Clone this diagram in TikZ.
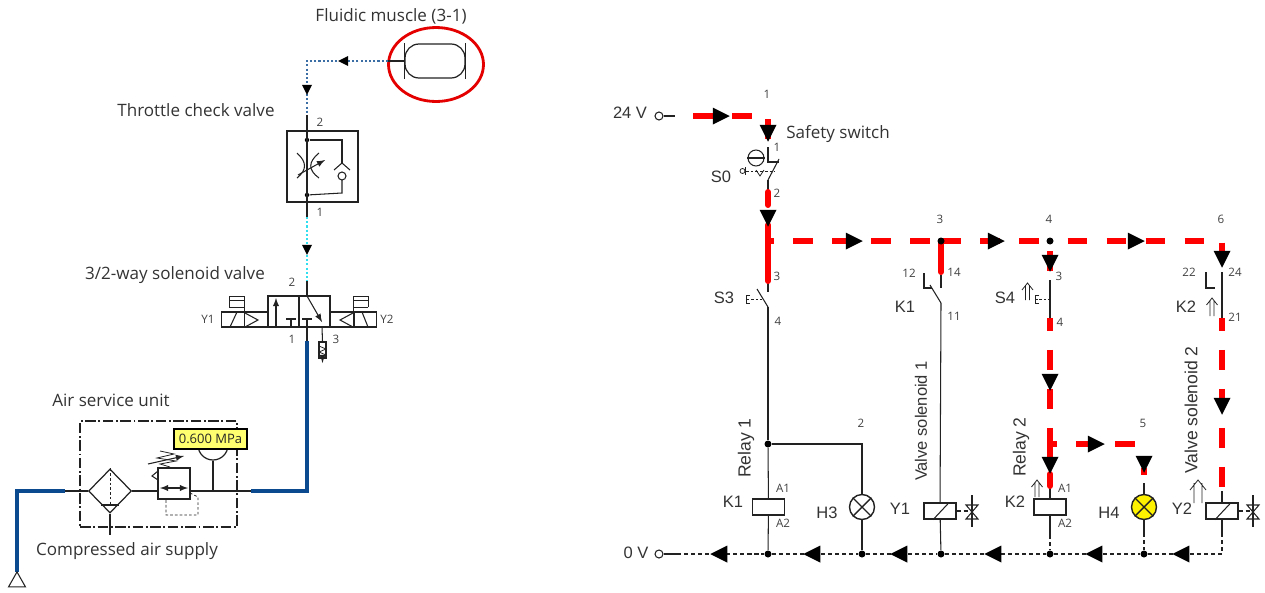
\documentclass[tikz,border=0pt]{standalone}
\usepackage{fontspec}
\setmainfont{Open Sans}
\newfontfamily\armfont{Liberation Sans}
\usetikzlibrary{shapes.geometric,calc}
\definecolor{wirecol}{HTML}{222222}
\definecolor{pipecol}{HTML}{0B4A8F}
\definecolor{dotblue}{HTML}{3A6EA5}
\definecolor{dotcyan}{HTML}{30E0F0}
\definecolor{tagcol}{HTML}{FFFF70}
\tikzset{
    x=0.02cm,
    y=-0.02cm,
    >=latex,
    wire/.style = {draw=wirecol, line width=0.6pt},
    fine/.style = {draw=wirecol, line width=0.45pt},
    dotwire/.style = {draw=wirecol, line width=0.45pt, dash pattern=on 1.5pt off 1.2pt},
    dashwire/.style = {draw=wirecol, line width=0.6pt, dash pattern=on 2.4pt off 1.6pt},
    pipe/.style = {draw=pipecol, line width=1.8pt},
    dotpipe/.style = {line width=0.7pt, dash pattern=on 1.2pt off 1.2pt},
    redflow/.style = {draw=red, line width=3.4pt, dash pattern=on 11.2pt off 11.0pt},
    redsolid/.style = {draw=red, line width=3.4pt, line cap=round},
    flowright/.style = {isosceles triangle, isosceles triangle stretches, fill=black, inner sep=0pt,
        minimum width=0.34cm, minimum height=0.34cm, shape border rotate=0},
    flowdown/.style = {flowright, shape border rotate=270},
    flowleft/.style = {flowright, shape border rotate=180},
    smalldown/.style = {flowdown, minimum width=0.2cm, minimum height=0.2cm},
    smallleft/.style = {flowleft, minimum width=0.2cm, minimum height=0.2cm},
    junction/.style = {circle, fill=black, minimum size=0.14cm, inner sep=0pt},
    smalldot/.style = {circle, fill=black, minimum size=0.09cm, inner sep=0pt},
    terminal/.style = {circle, draw=wirecol, line width=0.6pt, minimum size=0.16cm, inner sep=0pt},
    coil/.style = {draw=wirecol, line width=0.8pt, shape=rectangle, minimum width=0.64cm, minimum height=0.32cm, inner sep=0pt},
    lamp/.style = {draw=wirecol, line width=0.8pt, shape=circle, minimum size=0.5cm, inner sep=0pt},
    cell/.style = {draw=wirecol, line width=0.7pt, shape=rectangle, inner sep=0pt},
    caption/.style = {text=black!80, font=\fontsize{9.7}{11}\selectfont, inner sep=0pt},
    tag/.style = {text=black!80, font=\armfont\fontsize{9.4}{11}\selectfont, inner sep=0pt},
    num/.style = {text=black!75, font=\fontsize{6.6}{8}\selectfont, inner sep=0pt},
}
\begin{document}
\begin{tikzpicture}
    \useasboundingbox (0,0) rectangle (1265,592);

    % labels, pneumatic side
    \node[caption] (lblmuscle) at (391,16) {Fluidic muscle (3-1)};
    \node[caption] (lblthrottle) at (196,110) {Throttle check valve};
    \node[caption] (lblvalve) at (175,275) {3/2-way solenoid valve};
    \node[caption] (lblunit) at (111,400) {Air service unit};
    \node[caption] (lblsupply) at (127,551) {Compressed air supply};
    \node[num] (p2a) at (320,122) {2};
    \node[num] (p1a) at (320,212) {1};
    \node[num] (p2b) at (292,282) {2};
    \node[num] (p1b) at (292,339) {1};
    \node[num] (p3b) at (336,339) {3};
    \node[num] (py1) at (208,319) {Y1};
    \node[num] (py2) at (387,319) {Y2};

    % fluidic muscle
    \node[draw=wirecol, line width=0.7pt, shape=rectangle, rounded corners=0.28cm, minimum width=1.2cm, minimum height=0.68cm] (muscle) at (435,61) {};
    \path[draw, wire, line width=0.8pt] (muscle.north west) -- (muscle.south west);
    \path[draw, wire, line width=0.8pt] (muscle.north east) -- (muscle.south east);
    \node[ellipse, draw=red!90!black, line width=1.6pt, minimum width=1.9cm, minimum height=1.48cm, inner sep=0pt] (ring) at (436,64.5) {};
    \coordinate (mstub) at (388,61);
    \coordinate (mcorner) at (307,61);
    \coordinate (tcvtop) at (307,115);
    \path[draw, wire] (mstub) -- (muscle.west);
    \path[draw=dotblue, dotpipe] (mstub) -- (mcorner) -- (tcvtop);
    \node[smallleft] (am1) at (345,61) {};
    \node[smalldown] (am2) at (307,88) {};

    % throttle check valve
    \node[cell, minimum width=1.42cm, minimum height=1.42cm] (tcv) at (322.5,166.5) {};
    \coordinate (tcvbot) at (307,217);
    \coordinate (valvetop) at (307,281);
    \coordinate (valvein) at (307,296);
    \node[smalldot] (tcvu) at (307,140) {};
    \node[smalldot] (tcvl) at (307,195) {};
    \path[draw, wire] (tcvtop) -- (tcvbot);
    \path[draw, wire] (tcvu) -- (342,140) -- (342,163);
    \path[draw, wire] (342,180) -- (342,193) -- (tcvl);
    \node[circle, draw=wirecol, line width=0.6pt, minimum size=0.16cm, inner sep=0pt] (chk) at (342,176) {};
    \path[draw, wire] (334,170) -- (342,163) -- (350,170);
    \path[draw, wire] (297,153) .. controls (307,162) and (307,170) .. (297,178);
    \path[draw, wire] (319,153) .. controls (308,162) and (308,170) .. (319,178);
    \path[draw, wire, -latex] (298,175) -- (325,160);
    \path[draw=dotcyan, dotpipe] (tcvbot) -- (valvetop);
    \path[draw, wire] (valvetop) -- (valvein);
    \node[smalldown] (am3) at (307,248) {};

    % 3/2-way valve
    \node[cell, minimum width=0.62cm, minimum height=0.62cm] (vleft) at (283.5,311.5) {};
    \node[cell, minimum width=0.62cm, minimum height=0.62cm] (vright) at (314.5,311.5) {};
    \node[cell, minimum width=0.46cm, minimum height=0.3cm] (soll) at (233,319.5) {};
    \node[cell, minimum width=0.48cm, minimum height=0.3cm] (solr) at (342,319.5) {};
    \node[cell, minimum width=0.46cm, minimum height=0.3cm] (soll2) at (256,319.5) {};
    \node[cell, minimum width=0.46cm, minimum height=0.3cm] (solr2) at (365,319.5) {};
    \path[draw, wire] (230,327) -- (237,312);
    \path[draw, wire] (245,313) -- (258,320) -- (245,327);
    \path[draw, wire] (362,312) -- (368,327);
    \path[draw, wire] (353,313) -- (340,320) -- (353,327);
    \path[draw, fine] (229,307) -- (229,296) -- (244,296) -- (244,312);
    \path[draw, fine] (229,300) -- (244,300);
    \path[draw, fine] (229,307) -- (244,307);
    \path[draw, fine] (368,307) -- (368,296) -- (353,296) -- (353,312);
    \path[draw, fine] (353,300) -- (368,300);
    \path[draw, fine] (353,307) -- (368,307);
    \path[draw, wire, -latex] (276,327) -- (276,298);
    \path[draw, wire] (291,327) -- (291,319);
    \path[draw, wire] (286,319) -- (296,319);
    \path[draw, wire] (307,327) -- (307,319);
    \path[draw, wire] (302,319) -- (312,319);
    \path[draw, wire, -latex] (valvein) -- (322,322);
    \coordinate (valveout) at (307,327);
    \coordinate (unitcorner) at (307,491);
    \coordinate (pipein) at (307,341);
    \coordinate (unitin) at (251,491);
    \node[cell, minimum width=0.14cm, minimum height=0.32cm] (silencer) at (322.5,350) {};
    \path[draw, wire] (322,327) -- (silencer.north);
    \path[draw, fine] (319,346) -- (326,349) -- (319,352) -- (326,355);
    \path[draw, wire, -latex] (silencer.south) -- (322.5,363);
    \path[draw, wire] (valveout) -- (pipein);
    \path[draw, pipe] (pipein) -- (unitcorner) -- (unitin);

    % air service unit
    \node[draw=wirecol, line width=0.6pt, dash pattern=on 6pt off 1.5pt on 1pt off 1.5pt, shape=rectangle, minimum width=3.14cm, minimum height=2.12cm, inner sep=0pt] (unit) at (158.5,474) {};
    \node[diamond, draw=wirecol, line width=0.7pt, minimum width=0.86cm, minimum height=0.88cm, inner sep=0pt, aspect=1] (filter) at (110,491) {};
    \node[cell, minimum width=0.64cm, minimum height=0.62cm] (reg) at (174,483.5) {};
    \node[circle, draw=wirecol, line width=0.7pt, minimum size=0.6cm, inner sep=0pt] (gauge) at (213,445) {};
    \coordinate (gaugefoot) at (213,491);
    \coordinate (supplyin) at (65,491);
    \coordinate (supplycorner) at (17,491);
    \coordinate (supplyend) at (17,572);
    \coordinate (drain) at (110,535);
    \path[draw, wire] (unitin) -- (gaugefoot) -- (reg.east |- gaugefoot);
    \path[draw, wire] (reg.west |- gaugefoot) -- (filter.east);
    \path[draw, wire] (filter.west) -- (supplyin);
    \path[draw, wire] (gauge.south) -- (gaugefoot);
    \path[draw, dotwire] (filter.north) -- (110,505);
    \path[draw, wire] (101,505) -- (119,505);
    \path[draw, wire] (filter.south) -- (drain);
    \path[draw, wire, latex-latex] (160,488) -- (188,488);
    \path[draw, dotwire] (190,493) -- (198,497) -- (198,515) -- (166,515) -- (166,499);
    \path[draw, fine] (160,451) -- (174,454) -- (157,458) -- (176,461) -- (160,464) -- (170,467);
    \path[draw, wire, -latex] (148,464) -- (184,456);
    \path[draw, wire] (158,471) -- (152,476) -- (158,480);
    \node[draw=black, fill=tagcol, line width=0.6pt, font=\fontsize{7.4}{8}\selectfont, text=black!85, minimum width=1.46cm, minimum height=0.4cm, inner sep=0pt] (pressure) at (210.5,439) {0.600 MPa};
    \path[draw, pipe] (supplyin) -- (supplycorner) -- (supplyend);
    \node[isosceles triangle, isosceles triangle stretches, draw=wirecol, line width=0.6pt, inner sep=0pt, minimum width=0.34cm, minimum height=0.3cm, shape border rotate=90] (source) at (17,582) {};

    % labels, electric side
    \node[tag] (lbl24) at (630,113) {24 V};
    \node[tag] (lbl0) at (636,553) {0 V};
    \node[caption] (lblsafety) at (838,134) {Safety switch};
    \node[tag] (ls0) at (721,177) {S0};
    \node[tag] (ls3) at (724,298) {S3};
    \node[tag] (lk1) at (905,307) {K1};
    \node[tag] (ls4) at (1005,298) {S4};
    \node[tag] (lk2) at (1186,307) {K2};
    \node[tag] (lk1b) at (733,502) {K1};
    \node[tag] (lh3) at (827,513) {H3};
    \node[tag] (ly1) at (900,509) {Y1};
    \node[tag] (lk2b) at (1015,502) {K2};
    \node[tag] (lh4) at (1109,513) {H4};
    \node[tag] (ly2) at (1182,509) {Y2};
    \node[tag, font=\armfont\fontsize{10}{11}\selectfont, rotate=90] (lrel1) at (746,448) {Relay 1};
    \node[tag, rotate=90] (lsol1) at (921,421) {Valve solenoid 1};
    \node[tag, font=\armfont\fontsize{10}{11}\selectfont, rotate=90] (lrel2) at (1021,447) {Relay 2};
    \node[tag, font=\armfont\fontsize{10}{11}\selectfont, rotate=90] (lsol2) at (1191,410) {Valve solenoid 2};
    \node[num] (w1) at (767,94) {1};
    \node[num] (w2) at (861,423) {2};
    \node[num] (w3) at (940,219) {3};
    \node[num] (w4) at (1049,219) {4};
    \node[num] (w5) at (1143,423) {5};
    \node[num] (w6) at (1221,219) {6};
    \node[num] (c1) at (777,147) {1};
    \node[num] (c2) at (777,193) {2};
    \node[num] (c3) at (777,276) {3};
    \node[num] (c4) at (778,321) {4};
    \node[num] (c12) at (909,273) {12};
    \node[num] (c14) at (954,272) {14};
    \node[num] (c11) at (954,316) {11};
    \node[num] (d3) at (1059,276) {3};
    \node[num] (d4) at (1060,322) {4};
    \node[num] (c22) at (1189,272) {22};
    \node[num] (c24) at (1235,272) {24};
    \node[num] (c21) at (1235,317) {21};
    \node[num] (a1k1) at (783,488) {A1};
    \node[num] (a2k1) at (783,523) {A2};
    \node[num] (a1k2) at (1065,488) {A1};
    \node[num] (a2k2) at (1065,523) {A2};

    % terminals and components
    \node[terminal] (t24) at (659,116) {};
    \node[terminal] (t0) at (659,554) {};
    \node[coil] (k1) at (768.5,507) {};
    \node[coil] (k2) at (1050,507) {};
    \node[coil] (y1) at (940,511) {};
    \node[coil] (y2) at (1222,511) {};
    \node[lamp] (h3) at (862,507) {};
    \node[lamp, fill=yellow] (h4) at (1144,507) {};
    \path[draw, wire, line width=0.8pt] (h3.45) -- (h3.225);
    \path[draw, wire, line width=0.8pt] (h3.135) -- (h3.315);
    \path[draw, wire, line width=0.8pt] (h4.45) -- (h4.225);
    \path[draw, wire, line width=0.8pt] (h4.135) -- (h4.315);
    \path[draw, wire] (y1.south) ++(-7,0) -- ++(15,-16);
    \path[draw, wire] (y2.south) ++(-7,0) -- ++(15,-16);

    % junctions
    \coordinate (s0a) at (768,147);
    \coordinate (s0b) at (768,180);
    \coordinate (s0c) at (768,192);
    \coordinate (s0d) at (768,205);
    \coordinate (s3in) at (768,225);
    \coordinate (s3a) at (768,281);
    \coordinate (s3b) at (768,292);
    \coordinate (s3c) at (768,307);
    \coordinate (line1) at (768,241);
    \coordinate (j3) at (941,241);
    \coordinate (j4) at (1050,241);
    \coordinate (j6) at (1222,264);
    \node[junction] (jrel) at (768,444) {};
    \coordinate (j5) at (862,444);
    \node[junction] (b1) at (768,554) {};
    \node[junction] (b2) at (862,554) {};
    \node[junction] (b3) at (941,554) {};
    \node[junction] (b4) at (1050,554) {};
    \node[junction] (b5) at (1144,554) {};
    \coordinate (b6) at (1222,554);

    % safety switch
    \path[draw, wire] (s0a) -- (768,162) -- (779,162);
    \path[draw, wire] (s0b) -- (779,159);
    \path[draw, wire] (s0b) -- (s0c);
    \node[circle, draw=wirecol, line width=0.6pt, minimum size=0.32cm, inner sep=0pt] (s0knob) at (756,158) {};
    \path[draw, wire] (s0knob.west) -- (s0knob.east);
    \path[draw, dotwire] (746,171) -- (775,171);
    \path[draw, fine] (756,170) -- (760,176) -- (764,170);
    \path[draw, fine] (745,167) -- (745,175);
    \path[draw, fine] (742.5,171) circle (0.05cm);

    % switches
    \path[draw, wire] (s3a) -- (s3b);
    \path[draw, wire] (757,289) -- (s3c);
    \path[draw, wire] (s3c) -- (jrel);
    \path[draw, dotwire] (751,299) -- (762,299);
    \path[draw, fine] (750,295) -- (746,295) -- (746,303) -- (750,303);
    \path[draw, fine] (746,299) -- (749,299);
    \path[draw, wire] (jrel) -- (k1);
    \path[draw, wire] (k1) -- (b1);
    \path[draw, wire] (jrel) -- (j5) -- (h3);
    \path[draw, wire] (h3) -- (b2);
    \path[draw, wire] (941,275) -- (941,288);
    \path[draw, wire] (930,285) -- (941,303);
    \path[draw, wire] (941,303) -- (y1);
    \path[draw, wire] (y1) -- (b3);
    \path[draw, wire] (924,273) -- (924,288) -- (932,288);

    \path[draw, wire] (1050,280) -- (1050,318);
    \path[draw, dotwire] (1039,299) -- (1050,299);
    \path[draw, fine] (1039,295) -- (1035,295) -- (1035,303) -- (1039,303);
    \path[draw, fine] (1035,299) -- (1038,299);
    \path[draw, fine] (1025.5,300) -- (1025.5,285) (1029.5,300) -- (1029.5,285) (1022,290) -- (1027.5,283) -- (1033,290);
    \path[draw, wire] (k2.north) -- (1050,487);
    \path[draw, wire] (k2.south) -- (1050,535);
    \path[dashwire] (1050,535) -- (b4);
    \path[draw, fine] (1035,497) -- (1035,482) (1039,497) -- (1039,482) (1031.5,487) -- (1037,480) -- (1042.5,487);

    \path[draw, wire] (1206,272) -- (1206,288) -- (1215,288);
    \path[draw, wire] (1222,272) -- (1222,318);
    \path[draw, fine] (1210,316) -- (1210,300) (1214,316) -- (1214,300) (1206.5,305) -- (1212,298) -- (1217.5,305);
    \path[draw, wire] (y2.north) -- (1222,491);
    \path[draw, wire] (y2.south) -- (1222,533);
    \path[dashwire] (1222,533) -- (b6);
    \path[draw, fine] (1194,503) -- (1194,483) (1202,503) -- (1202,483) (1190,490) -- (1198,480) -- (1206,490);

    \path[draw, wire] (1144,483) -- (h4);
    \path[draw, wire] (h4) -- (1144,533);
    \path[dashwire] (1144,533) -- (b5);

    % valve symbols on the coils
    \path[dashwire] (y1.east) -- (972,511);
    \path[draw, wire] (972,495) -- (972,527);
    \path[draw, wire] (966,505) -- (978,519) -- (966,519) -- (978,505) -- cycle;
    \path[dashwire] (y2.east) -- (1253,511);
    \path[draw, wire] (1253,495) -- (1253,527);
    \path[draw, wire] (1247,505) -- (1259,519) -- (1247,519) -- (1259,505) -- cycle;

    % rails
    \path[draw, wire] (t24) -- ++(16,0);
    \path[draw, wire] (t0) -- ++(18,0);
    \path[dashwire] (677,554) -- (b1);
    \path[dashwire] (b1) -- (b2);
    \path[dashwire] (b2) -- (b3);
    \path[dashwire] (b3) -- (b4);
    \path[dashwire] (b4) -- (b5);
    \path[dashwire] (b5) -- (b6);

    % current path
    \coordinate (start) at (693,116);
    \path[redflow] (start) -| (768,139);
    \path[redsolid] (s0c) -- (s0d);
    \path[redsolid] (s3in) -- (s3a);
    \path[redflow, dash phase=7.8pt] (line1) -- (j3);
    \path[redflow] (j3) -- (j4);
    \path[redflow, dash phase=12.2pt] (j4) -| (j6);
    \path[redsolid] (j3) -- (941,272);
    \path[redflow] (1050,251) -- (1050,271);
    \path[redflow, dash phase=4pt] (1050,318) -- (1050,444);
    \path[redsolid] (1050,444) -- (1050,457);
    \path[redsolid] (1050,474) -- (1050,486);
    \path[redflow, dash phase=7.4pt] (1050,444) -- (1135,444);
    \path[redflow] (1144,468) -- (1144,475);
    \path[redflow, dash phase=4pt] (1222,318) -- (1222,487);
    \node[junction] (dot3) at (j3) {};
    \node[junction] (dot4) at (j4) {};

    % flow arrows
    \node[flowright] (f1) at (718,116) {};
    \node[flowdown] (f2) at (768,130) {};
    \node[flowdown] (f3) at (768,215) {};
    \node[flowright] (f4) at (851,241) {};
    \node[flowright] (f5) at (993,241) {};
    \node[flowright] (f6) at (1133,241) {};
    \node[flowdown] (f7) at (1050,260) {};
    \node[flowdown] (f8) at (1222,256) {};
    \node[flowdown] (f9) at (1050,379) {};
    \node[flowdown] (f10) at (1222,403) {};
    \node[flowdown] (f11) at (1050,462) {};
    \node[flowright] (f12) at (1093,444) {};
    \node[flowdown] (f13) at (1144,461) {};
    \node[flowleft] (f14) at (1184,554) {};
    \node[flowleft] (f15) at (1097,554) {};
    \node[flowleft] (f16) at (996,554) {};
    \node[flowleft] (f17) at (902,554) {};
    \node[flowleft] (f18) at (815,554) {};
    \node[flowleft] (f19) at (722,554) {};
\end{tikzpicture}
\end{document}
